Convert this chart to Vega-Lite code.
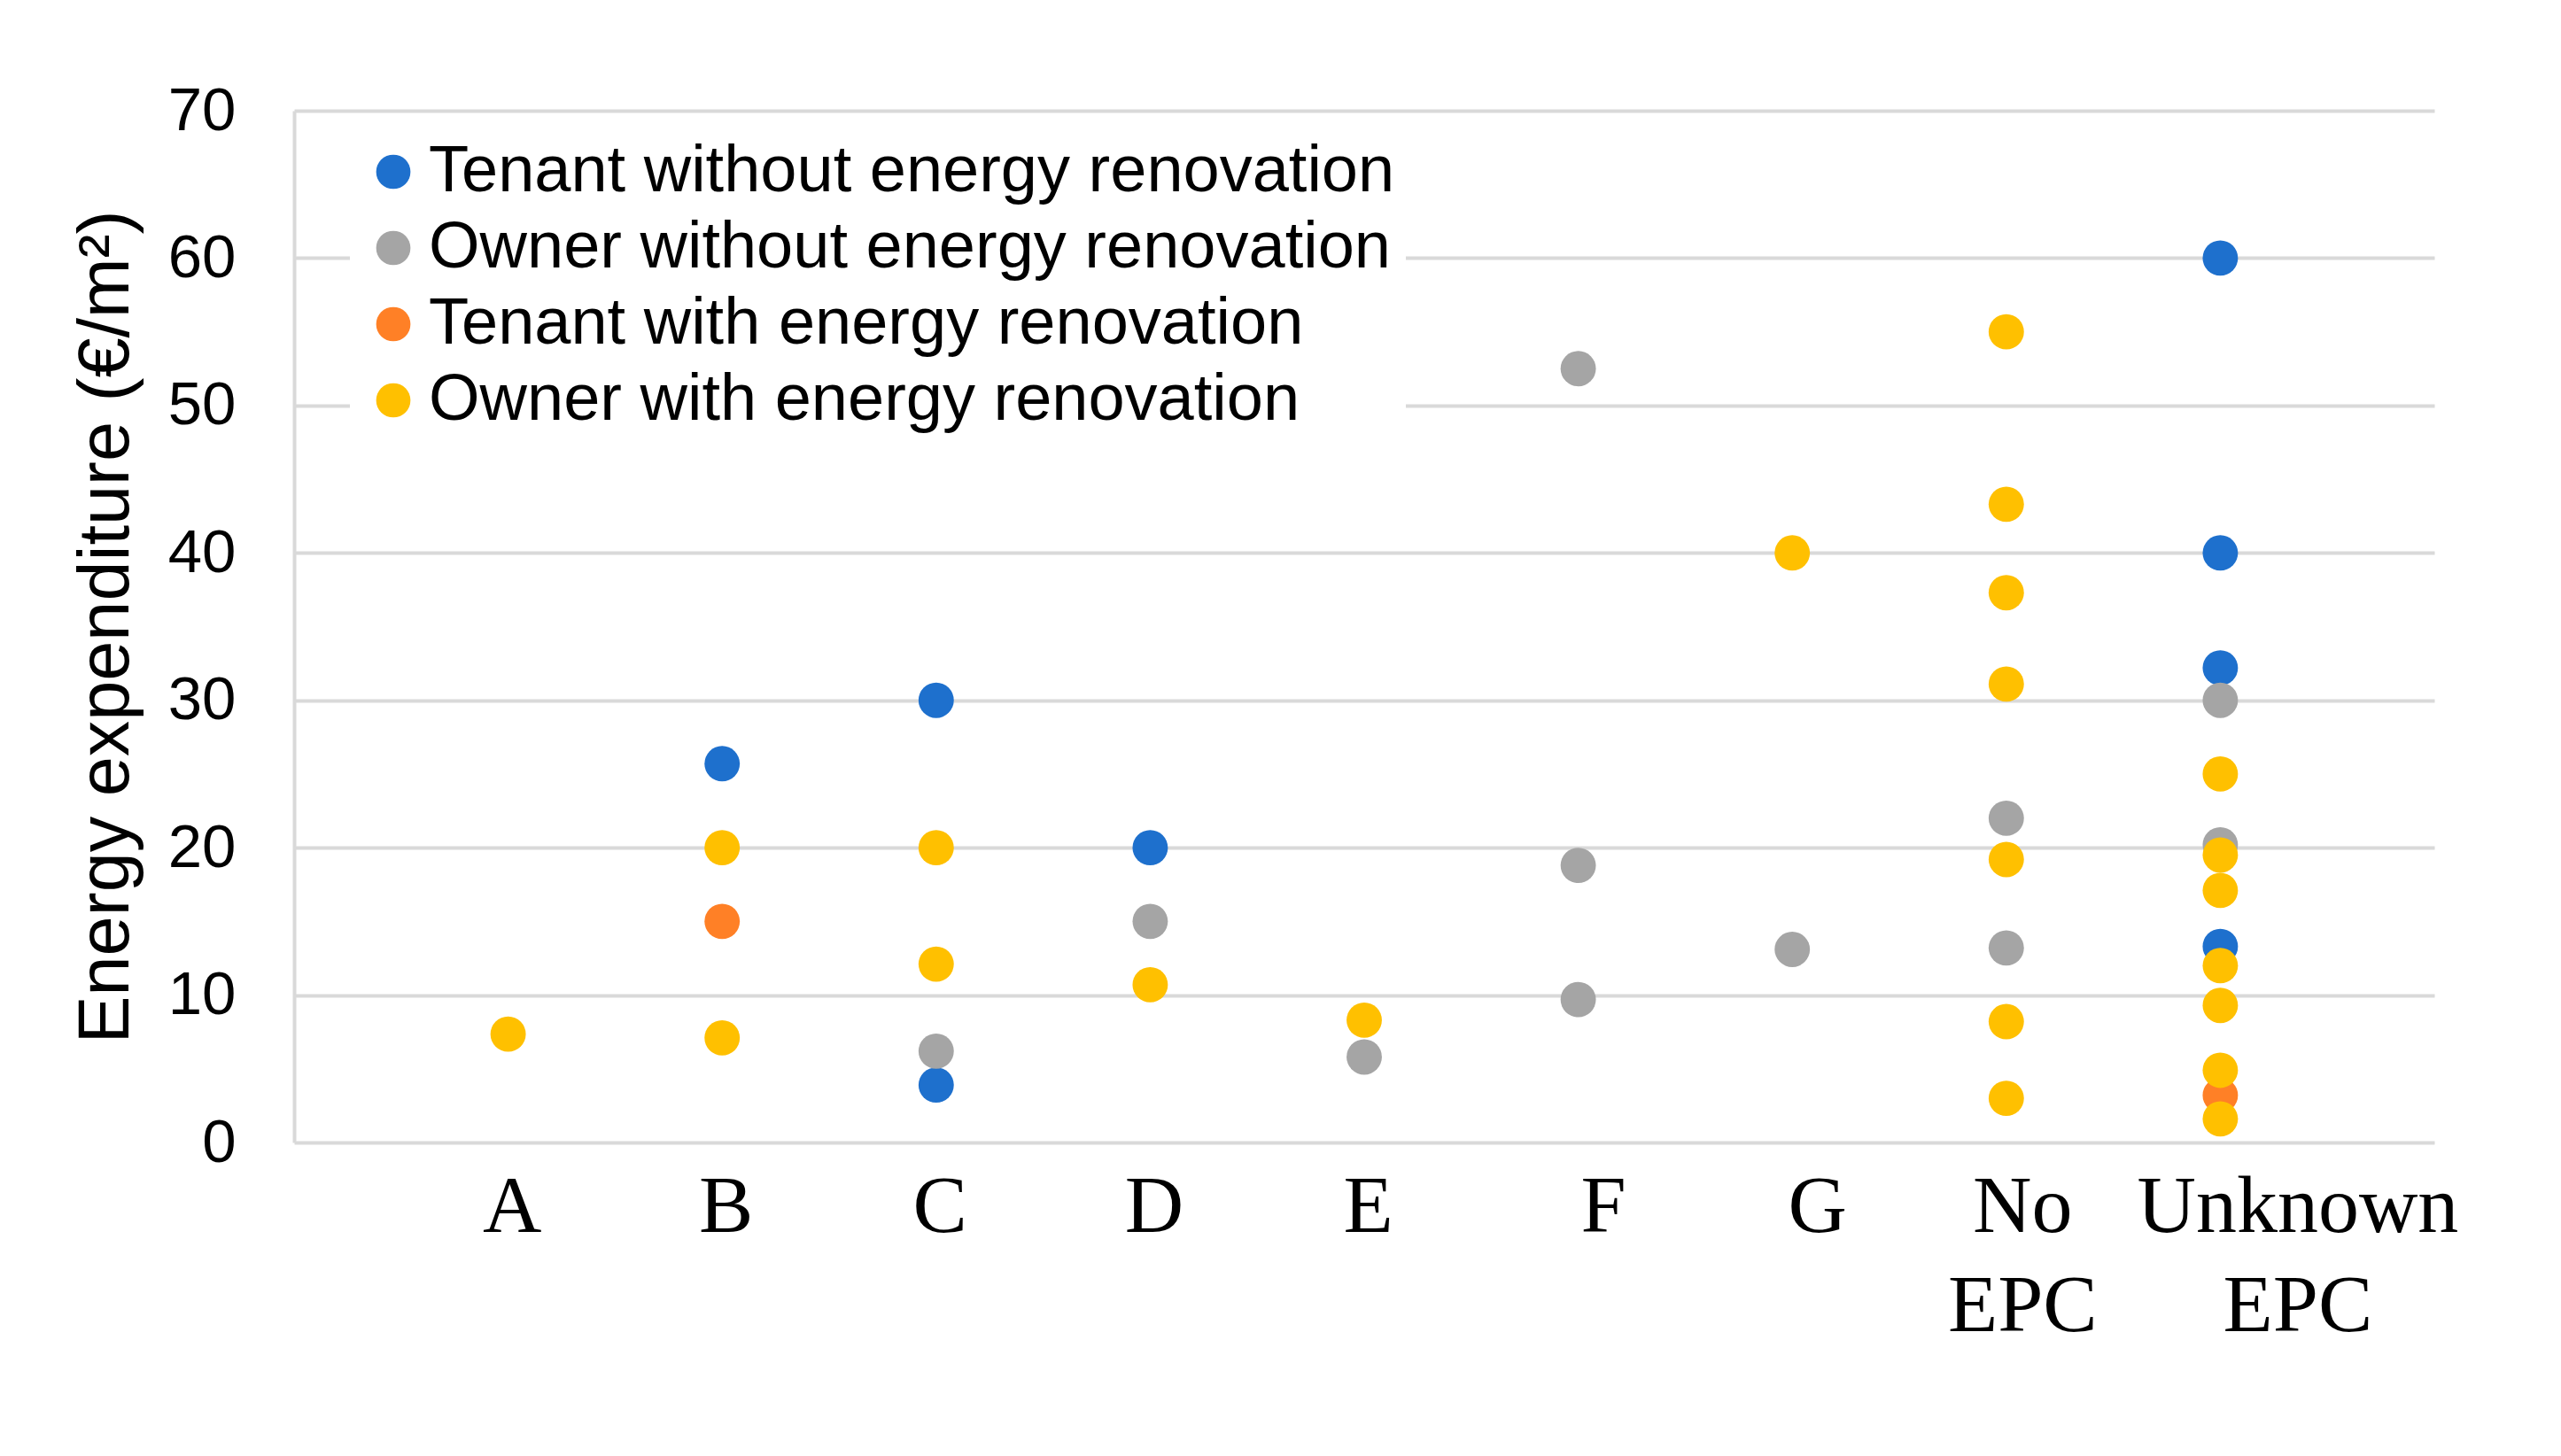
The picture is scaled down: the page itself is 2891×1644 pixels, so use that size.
{
  "$schema": "https://vega.github.io/schema/vega-lite/v6.json",
  "width": 2416,
  "height": 1165,
  "autosize": {"type": "none"},
  "padding": {"left": 332, "top": 125, "right": 143, "bottom": 354},
  "background": "white",
  "config": {"view": {"stroke": null}},
  "data": {
    "values": [
      {"epc": "B", "group": "Tenant without energy renovation", "value": 25.7},
      {"epc": "C", "group": "Tenant without energy renovation", "value": 30.0},
      {"epc": "C", "group": "Tenant without energy renovation", "value": 3.9},
      {"epc": "D", "group": "Tenant without energy renovation", "value": 20.0},
      {"epc": "Unknown EPC", "group": "Tenant without energy renovation", "value": 60.0},
      {"epc": "Unknown EPC", "group": "Tenant without energy renovation", "value": 40.0},
      {"epc": "Unknown EPC", "group": "Tenant without energy renovation", "value": 32.2},
      {"epc": "Unknown EPC", "group": "Tenant without energy renovation", "value": 13.3},
      {"epc": "C", "group": "Owner without energy renovation", "value": 6.2},
      {"epc": "D", "group": "Owner without energy renovation", "value": 15.0},
      {"epc": "E", "group": "Owner without energy renovation", "value": 5.8},
      {"epc": "F", "group": "Owner without energy renovation", "value": 52.5},
      {"epc": "F", "group": "Owner without energy renovation", "value": 18.8},
      {"epc": "F", "group": "Owner without energy renovation", "value": 9.7},
      {"epc": "G", "group": "Owner without energy renovation", "value": 13.1},
      {"epc": "No EPC", "group": "Owner without energy renovation", "value": 22.0},
      {"epc": "No EPC", "group": "Owner without energy renovation", "value": 13.2},
      {"epc": "Unknown EPC", "group": "Owner without energy renovation", "value": 30.0},
      {"epc": "Unknown EPC", "group": "Owner without energy renovation", "value": 20.2},
      {"epc": "B", "group": "Tenant with energy renovation", "value": 15.0},
      {"epc": "Unknown EPC", "group": "Tenant with energy renovation", "value": 3.2},
      {"epc": "A", "group": "Owner with energy renovation", "value": 7.35},
      {"epc": "B", "group": "Owner with energy renovation", "value": 20.0},
      {"epc": "B", "group": "Owner with energy renovation", "value": 7.1},
      {"epc": "C", "group": "Owner with energy renovation", "value": 20.0},
      {"epc": "C", "group": "Owner with energy renovation", "value": 12.1},
      {"epc": "D", "group": "Owner with energy renovation", "value": 10.7},
      {"epc": "E", "group": "Owner with energy renovation", "value": 8.3},
      {"epc": "G", "group": "Owner with energy renovation", "value": 40.0},
      {"epc": "No EPC", "group": "Owner with energy renovation", "value": 55.0},
      {"epc": "No EPC", "group": "Owner with energy renovation", "value": 43.3},
      {"epc": "No EPC", "group": "Owner with energy renovation", "value": 37.3},
      {"epc": "No EPC", "group": "Owner with energy renovation", "value": 31.1},
      {"epc": "No EPC", "group": "Owner with energy renovation", "value": 19.2},
      {"epc": "No EPC", "group": "Owner with energy renovation", "value": 8.2},
      {"epc": "No EPC", "group": "Owner with energy renovation", "value": 3.0},
      {"epc": "Unknown EPC", "group": "Owner with energy renovation", "value": 25.0},
      {"epc": "Unknown EPC", "group": "Owner with energy renovation", "value": 19.5},
      {"epc": "Unknown EPC", "group": "Owner with energy renovation", "value": 17.1},
      {"epc": "Unknown EPC", "group": "Owner with energy renovation", "value": 12.0},
      {"epc": "Unknown EPC", "group": "Owner with energy renovation", "value": 9.3},
      {"epc": "Unknown EPC", "group": "Owner with energy renovation", "value": 4.9},
      {"epc": "Unknown EPC", "group": "Owner with energy renovation", "value": 1.6}
    ]
  },
  "mark": {"type": "point", "filled": true, "shape": "circle", "opacity": 1, "size": 1590, "strokeWidth": 0},
  "encoding": {
    "x": {
      "field": "epc",
      "type": "ordinal",
      "scale": {"type": "point", "padding": 1, "domain": ["A", "B", "C", "D", "E", "F", "G", "No EPC", "Unknown EPC"]},
      "axis": {
        "title": null,
        "domain": false,
        "ticks": false,
        "grid": false,
        "labelAngle": 0,
        "labelFont": "Liberation Serif",
        "labelFontSize": 92,
        "labelColor": "#000000",
        "labelPadding": 27,
        "labelLineHeight": 112,
        "labelOverlap": false,
        "labelBound": false,
        "labelFlush": false,
        "labelLimit": 1000,
        "labelOffset": {
          "condition": [
            {"test": "datum.value === 'Unknown EPC'", "value": 87},
            {"test": "datum.value === 'No EPC'", "value": 18},
            {"test": "datum.value === 'F' || datum.value === 'G'", "value": 28}
          ],
          "value": 4
        },
        "labelExpr": "split(datum.label, ' ')"
      }
    },
    "y": {
      "field": "value",
      "type": "quantitative",
      "scale": {"domain": [0, 70], "nice": false},
      "axis": {
        "title": "Energy expenditure (€/m²)",
        "titleFont": "Liberation Sans",
        "titleFontSize": 81,
        "titleFontWeight": "normal",
        "titleColor": "#000000",
        "titlePadding": 28,
        "values": [0, 10, 20, 30, 40, 50, 60, 70],
        "labelFont": "Liberation Sans",
        "labelFontSize": 69,
        "labelColor": "#000000",
        "labelPadding": 66,
        "ticks": false,
        "tickSize": 0,
        "domain": true,
        "domainColor": "#D9D9D9",
        "domainWidth": 4,
        "grid": true,
        "gridColor": "#D9D9D9",
        "gridWidth": 4
      }
    },
    "color": {
      "field": "group",
      "type": "nominal",
      "scale": {
        "domain": ["Tenant without energy renovation", "Owner without energy renovation", "Tenant with energy renovation", "Owner with energy renovation"],
        "range": ["#1E70CD", "#A5A5A5", "#FF8026", "#FFC000"]
      },
      "legend": {
        "orient": "none",
        "legendX": 63,
        "legendY": 20,
        "title": null,
        "labelFont": "Liberation Sans",
        "labelFontSize": 74,
        "labelColor": "#000000",
        "labelLimit": 2000,
        "labelOffset": 3,
        "symbolType": "circle",
        "symbolSize": 1500,
        "symbolStrokeWidth": 0,
        "symbolOpacity": 1,
        "rowPadding": 12,
        "fillColor": "white",
        "padding": 12
      }
    }
  }
}
